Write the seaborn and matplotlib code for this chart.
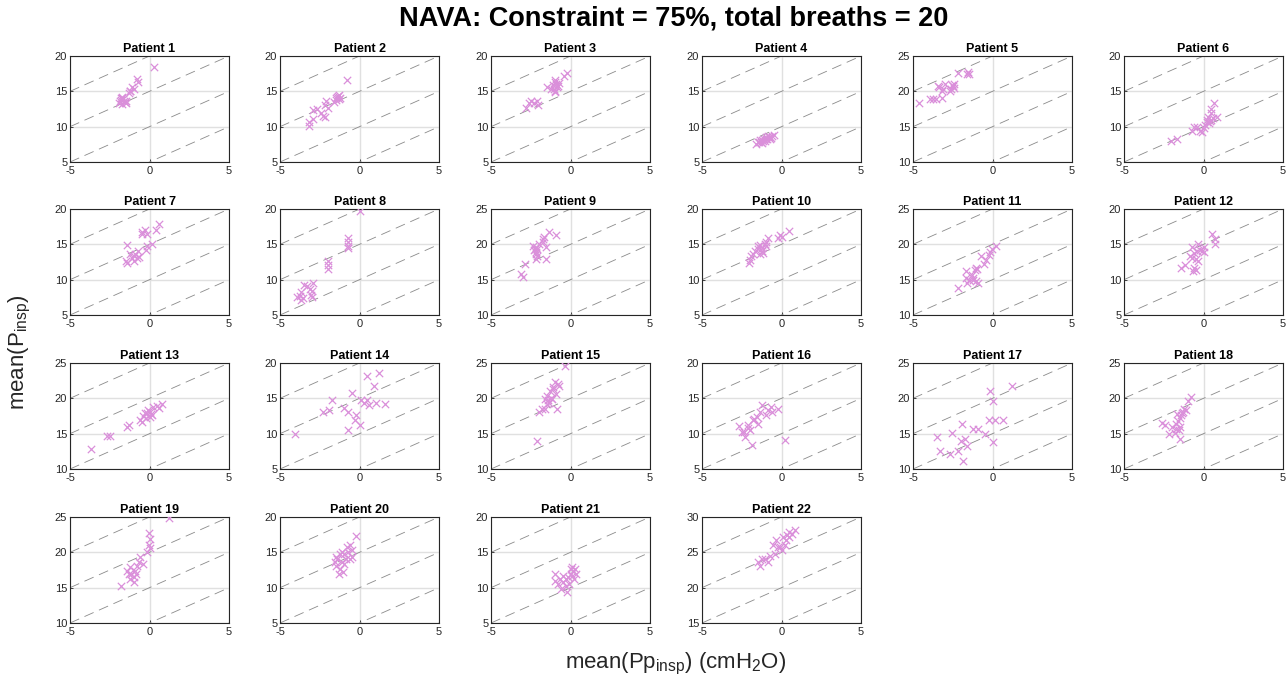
import numpy as np
import pandas as pd
import matplotlib
matplotlib.use("Agg")
import matplotlib.pyplot as plt
import seaborn as sns

# ---------------- data ----------------
patients = [f"Patient {i}" for i in range(1, 23)]
y_lower = [5, 5, 5, 5, 10, 5, 5, 5, 10, 5, 10, 5, 10, 5, 10, 5, 10, 10, 10, 5, 5, 15]
x_ticks = [-5, 0, 5]
ref_offsets = [0, 5, 10, 15, 20, 25, 30, 35]

p1_x = [0.3, -0.8, -0.75, -1.1, -1.25, -0.95, -1.3, -1.2, -1.7, -1.8, -1.6, -1.75, -1.5, -1.9, -1.65, -1.55, -1.8, -1.7, -1.45, -1.85]
p1_y = [18.4, 16.8, 16.3, 15.6, 15.0, 15.3, 14.8, 15.1, 14.1, 13.8, 13.6, 14.2, 13.3, 13.4, 13.9, 13.5, 14.0, 13.2, 13.6, 13.7]
p2_x = [-0.8, -1.3, -1.4, -1.2, -1.5, -1.35, -1.6, -2.1, -2.2, -2.4, -2.3, -2.2, -2.7, -2.9, -2.95, -3.2, -3.2, -1.3, -2.0, -1.45]
p2_y = [16.6, 14.5, 14.2, 14.0, 13.8, 14.3, 13.5, 13.6, 13.0, 12.0, 11.5, 11.4, 12.5, 12.3, 11.1, 10.6, 10.1, 13.9, 12.7, 14.1]
p3_x = [-0.25, -0.4, -0.9, -1.0, -0.8, -1.1, -0.95, -0.7, -1.45, -0.95, -1.2, -0.85, -1.05, -2.8, -2.5, -2.1, -2.05, -2.3, -2.6, -1.0]
p3_y = [17.6, 17.2, 16.0, 16.3, 15.8, 15.9, 16.6, 16.2, 15.6, 14.9, 15.4, 15.6, 15.3, 12.7, 13.6, 13.7, 13.1, 13.3, 13.4, 15.1]
p4_x = [-1.6, -1.5, -1.4, -1.3, -1.2, -1.1, -1.0, -0.9, -0.8, -0.7, -0.6, -0.5, -1.35, -1.15, -0.95, -0.75, -1.25, -0.85, -1.05, -0.65]
p4_y = [7.6, 7.8, 7.9, 7.9, 8.1, 8.2, 8.3, 8.3, 8.5, 8.6, 8.7, 8.8, 8.1, 8.0, 8.5, 8.3, 7.7, 8.7, 8.0, 8.4]
p5_x = [-4.6, -3.95, -3.75, -3.55, -3.35, -3.15, -3.2, -3.0, -2.7, -2.55, -2.5, -2.45, -2.2, -1.55, -1.5, -2.6, -3.1, -2.45, -1.6, -3.4]
p5_y = [18.3, 18.9, 18.9, 18.9, 20.6, 20.0, 19.1, 21.0, 20.1, 20.9, 20.7, 20.5, 22.6, 22.8, 22.4, 20.3, 20.4, 21.0, 22.5, 20.7]
p6_x = [0.65, 0.45, 0.45, 0.3, 0.5, 0.4, 0.2, 0.6, 0.85, 0.35, 0.1, -0.4, -0.2, -0.1, -0.7, -0.6, -2.05, -1.65, 0.25, 0.0]
p6_y = [13.3, 12.5, 12.0, 11.4, 11.0, 10.8, 10.6, 11.2, 11.3, 10.5, 10.2, 9.9, 9.4, 9.2, 9.4, 9.9, 8.0, 8.3, 10.9, 9.8]
p7_x = [0.6, 0.4, -0.45, -0.3, -0.15, -0.5, 0.15, -0.15, -0.2, -1.4, -0.75, -0.9, -1.25, -1.1, -0.65, -0.95, -1.45, -1.4, -1.0, -0.8]
p7_y = [17.9, 17.0, 16.8, 17.0, 16.5, 16.5, 15.0, 14.7, 14.2, 14.9, 14.0, 13.7, 13.6, 13.1, 13.2, 13.4, 12.7, 12.3, 12.7, 13.0]
p8_x = [0.0, -0.75, -0.75, -0.75, -0.7, -2.0, -2.0, -1.95, -2.9, -3.5, -3.3, -3.1, -3.0, -3.05, -3.0, -3.65, -3.75, -3.95, -3.65, -3.55]
p8_y = [19.7, 15.9, 15.4, 14.7, 14.5, 12.6, 12.1, 11.5, 9.5, 9.3, 9.1, 8.7, 8.4, 7.9, 7.6, 8.2, 7.7, 7.6, 7.1, 7.4]
p9_x = [-1.35, -0.9, -1.65, -1.75, -1.95, -1.55, -2.2, -2.25, -2.15, -2.1, -2.15, -1.55, -2.2, -2.3, -2.85, -3.1, -3.0, -2.1, -1.7, -2.35]
p9_y = [21.8, 21.3, 21.1, 20.7, 20.1, 19.6, 19.6, 19.4, 18.9, 18.4, 17.9, 17.9, 18.7, 19.2, 17.2, 15.8, 15.4, 19.4, 20.4, 19.7]
p10_x = [0.5, -0.1, -0.2, -0.85, -0.95, -1.05, -1.35, -1.5, -1.2, -1.25, -1.65, -1.8, -1.15, -1.45, -1.9, -2.0, -2.05, -0.95, 0.0, -1.35]
p10_y = [16.9, 16.3, 15.9, 15.9, 15.4, 15.0, 14.9, 14.7, 14.5, 14.1, 14.0, 13.7, 13.8, 14.3, 13.3, 12.8, 12.3, 14.7, 16.1, 13.6]
p11_x = [0.2, -0.05, -0.15, -0.25, -0.75, -0.4, -0.55, -1.05, -1.1, -1.65, -1.3, -1.65, -1.5, -1.2, -1.05, -0.9, -1.6, -2.2, -1.2, -1.0]
p11_y = [19.8, 19.4, 18.9, 18.5, 18.3, 17.8, 17.2, 16.6, 16.4, 16.2, 15.7, 15.2, 15.0, 15.2, 14.8, 14.5, 14.5, 13.8, 14.9, 16.5]
p12_x = [0.55, 0.75, 0.75, -0.35, -0.75, 0.0, -0.2, 0.05, -0.4, -0.6, -0.85, -0.7, -0.5, -0.35, -1.15, -1.4, -0.6, -0.5, -0.65, -0.1]
p12_y = [16.5, 15.8, 15.1, 15.1, 14.6, 14.6, 14.2, 13.9, 14.0, 13.8, 13.4, 13.1, 12.9, 12.7, 12.1, 11.7, 11.7, 11.3, 11.2, 14.1]
p13_x = [-3.7, -2.7, -2.5, -1.4, -1.3, -0.6, -0.4, -0.15, 0.05, 0.15, -0.3, 0.45, 0.8, 0.0, -0.1, -0.5, 0.25, -0.2, 0.6, 0.1]
p13_y = [12.9, 14.6, 14.6, 15.9, 16.2, 16.9, 17.5, 17.9, 18.1, 17.6, 17.9, 18.9, 19.2, 17.3, 18.4, 16.6, 18.8, 17.2, 18.7, 17.8]
p14_x = [-4.05, -2.3, -1.9, -1.7, -0.95, -0.75, -0.75, -0.5, -0.3, -0.2, 0.0, 0.1, 0.3, 0.45, 0.5, 0.9, 1.05, 1.25, 1.6, 0.6]
p14_y = [9.9, 13.0, 13.3, 14.7, 13.7, 13.0, 10.5, 15.7, 11.9, 12.6, 11.2, 14.7, 14.4, 18.1, 14.7, 16.8, 14.3, 18.6, 14.2, 14.0]
p15_x = [-0.35, -1.0, -0.8, -1.1, -1.3, -1.2, -1.5, -1.4, -1.5, -1.6, -1.8, -0.85, -1.95, -2.1, -1.15, -0.9, -1.1, -1.35, -1.6, -0.7]
p15_y = [24.6, 22.3, 22.0, 21.3, 21.0, 20.1, 20.4, 19.7, 19.2, 18.5, 18.5, 18.5, 18.0, 13.9, 19.9, 20.6, 21.6, 19.4, 19.9, 21.8]
p16_x = [-2.65, -2.5, -2.3, -2.1, -2.0, -1.85, -1.8, -1.55, -1.35, -1.2, -1.0, -0.85, -0.6, -0.2, 0.2, -0.65, -1.5, -2.1, -1.7, -2.35]
p16_y = [11.1, 10.2, 9.5, 11.2, 10.5, 8.4, 11.9, 12.3, 13.0, 14.0, 12.6, 13.3, 13.0, 13.5, 9.1, 13.8, 11.3, 10.8, 12.1, 10.2]
p17_x = [-3.5, -3.3, -2.7, -2.55, -2.2, -2.0, -1.9, -1.75, -1.6, -1.85, -1.2, -0.9, -0.45, -0.2, 0.0, -0.15, 0.0, 0.15, 0.65, 1.25]
p17_y = [14.5, 12.5, 12.1, 15.1, 12.5, 13.9, 16.3, 14.2, 13.2, 11.1, 15.6, 15.6, 14.9, 17.0, 19.6, 21.0, 13.8, 17.0, 17.0, 21.7]
p18_x = [-0.8, -1.0, -1.1, -1.3, -1.4, -1.5, -1.6, -1.7, -1.45, -1.55, -1.8, -2.0, -2.2, -2.4, -2.6, -1.35, -1.65, -1.5, -1.75, -1.2]
p18_y = [20.2, 19.6, 18.3, 18.0, 17.6, 17.2, 16.8, 16.4, 16.0, 15.5, 15.1, 15.9, 15.0, 16.2, 16.5, 17.9, 17.8, 14.3, 15.6, 18.5]
p19_x = [-1.8, -1.4, -1.2, -1.15, -1.0, -0.9, -0.8, -0.65, -0.6, -1.0, -1.2, -0.15, -0.05, -0.05, 0.0, 0.05, -0.85, -0.4, 1.2, -1.3]
p19_y = [15.3, 17.3, 17.9, 16.9, 16.5, 17.4, 18.0, 18.7, 19.4, 15.8, 16.2, 20.0, 21.1, 22.8, 21.9, 20.6, 16.9, 18.3, 24.9, 17.0]
p20_x = [-0.2, -0.6, -0.75, -0.95, -0.5, -1.25, -1.4, -1.1, -1.55, -1.45, -1.2, -0.95, -0.6, -0.8, -1.05, -1.3, -0.45, -0.85, -1.1, -1.5]
p20_y = [17.3, 16.1, 15.1, 14.7, 14.4, 14.7, 14.0, 13.7, 13.6, 13.0, 12.6, 13.3, 14.0, 15.7, 12.2, 11.9, 15.4, 14.0, 15.1, 14.3]
p21_x = [0.1, 0.15, 0.0, -0.15, -0.3, 0.1, 0.3, -0.65, -0.45, -0.8, -0.6, -1.0, -0.2, -0.3, -0.1, 0.2, -0.45, 0.35, 0.0, -0.95]
p21_y = [12.9, 12.3, 11.9, 11.5, 11.2, 11.6, 12.6, 11.2, 10.8, 10.5, 9.8, 10.9, 9.4, 10.2, 10.5, 11.2, 11.6, 11.9, 12.6, 11.9]
p22_x = [-1.35, -1.05, -0.75, -0.4, -0.55, -0.2, 0.05, 0.2, 0.3, 0.45, 0.65, 0.85, 0.5, 0.1, -0.1, -1.5, -0.85, -0.35, 0.35, -1.25]
p22_y = [23.1, 24.0, 24.5, 24.7, 26.1, 25.7, 25.4, 26.1, 26.8, 27.2, 27.6, 28.2, 27.9, 27.1, 25.7, 23.6, 23.7, 26.8, 27.5, 24.0]

xs = [p1_x, p2_x, p3_x, p4_x, p5_x, p6_x, p7_x, p8_x, p9_x, p10_x, p11_x,
      p12_x, p13_x, p14_x, p15_x, p16_x, p17_x, p18_x, p19_x, p20_x, p21_x, p22_x]
ys = [p1_y, p2_y, p3_y, p4_y, p5_y, p6_y, p7_y, p8_y, p9_y, p10_y, p11_y,
      p12_y, p13_y, p14_y, p15_y, p16_y, p17_y, p18_y, p19_y, p20_y, p21_y, p22_y]

# ---------------- style ----------------
sns.set_theme(style="white")
plt.rcParams["font.family"] = ["Liberation Sans", "DejaVu Sans"]
plt.rcParams["mathtext.fontset"] = "custom"
plt.rcParams["mathtext.rm"] = "Liberation Sans"
plt.rcParams["mathtext.it"] = "Liberation Sans:italic"
plt.rcParams["mathtext.bf"] = "Liberation Sans:bold"
plt.rcParams["axes.unicode_minus"] = False

W, H = 1288, 683
fig = plt.figure(figsize=(W / 100, H / 100), dpi=100)
fig.patch.set_facecolor("white")

col_left = [70, 280, 491, 702, 913, 1124]
row_top = [56, 209, 363, 517]
ax_w, ax_h = 159, 106

marker_color = "#DA8FDA"
ref_color = "#8a8a8a"
grid_color = "#e0e0e0"
text_color = "#262626"

for i, name in enumerate(patients):
    r, c = divmod(i, 6)
    left = col_left[c] / W
    bottom = 1 - (row_top[r] + ax_h) / H
    ax = fig.add_axes([left, bottom, ax_w / W, ax_h / H])
    ylo = y_lower[i]
    yticks = [ylo, ylo + 5, ylo + 10, ylo + 15]

    ax.set_xlim(-5, 5)
    ax.set_ylim(ylo, ylo + 15)
    ax.set_xticks(x_ticks)
    ax.set_yticks(yticks)
    ax.grid(True, color=grid_color, linewidth=1.0)
    ax.set_axisbelow(True)

    xr = np.array([-5.0, 5.0])
    for off in ref_offsets:
        ax.plot(xr, xr + off, linestyle=(0, (12, 7)), color=ref_color,
                linewidth=0.6, zorder=1)

    df = pd.DataFrame({"x": xs[i], "y": ys[i]})
    sns.scatterplot(data=df, x="x", y="y", marker="x", color=marker_color,
                    s=28, linewidth=0.9, ax=ax, zorder=3, clip_on=True)

    ax.set_xlim(-5, 5)
    ax.set_ylim(ylo, ylo + 15)
    ax.set_xlabel("")
    ax.set_ylabel("")
    ax.set_title(name, fontsize=9, fontweight="bold", color="black", pad=3)
    ax.tick_params(direction="in", length=2.5, width=0.6, labelsize=8,
                   colors=text_color, pad=2, bottom=True, left=True)
    ax.tick_params(axis="x", pad=3)
    for sp in ax.spines.values():
        sp.set_color("#262626")
        sp.set_linewidth(0.8)
        sp.set_visible(True)

fig.text(674 / W, 1 - 18 / H, "NAVA: Constraint = 75%, total breaths = 20",
         ha="center", va="center", fontsize=19.5, fontweight="bold", color="black")
fig.text(676 / W, 1 - 664 / H,
         r"mean(Pp$\mathregular{_{insp}}$) (cmH$\mathregular{_2}$O)",
         ha="center", va="center", fontsize=16, color=text_color)
fig.text(20 / W, 1 - 352 / H, r"mean(P$\mathregular{_{insp}}$)",
         ha="center", va="center", rotation=90, fontsize=16, color=text_color)

fig.savefig("out.png", dpi=100, facecolor="white")
